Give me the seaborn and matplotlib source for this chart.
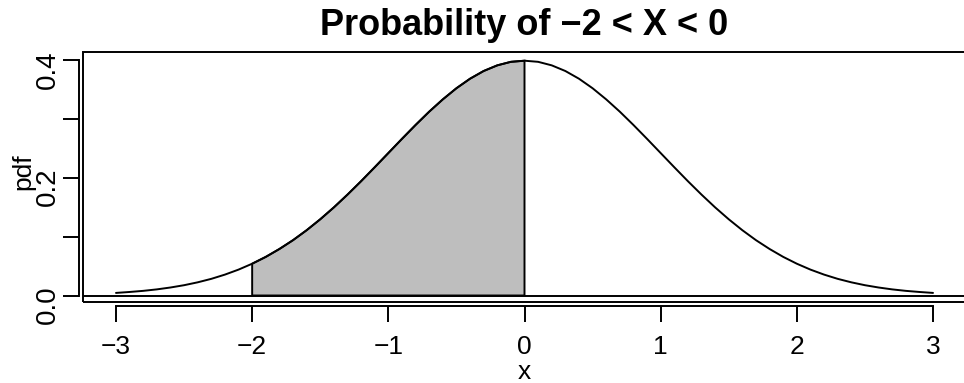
import numpy as np
import matplotlib
matplotlib.use("Agg")
import matplotlib.pyplot as plt
from matplotlib.patches import Rectangle
import seaborn as sns
import pandas as pd

# Standard normal density sampled on a 0.1 grid from -3 to 3
x_values = np.linspace(-3.0, 3.0, 61)
pdf_values = [
    0.0044, 0.0060, 0.0079, 0.0104, 0.0136, 0.0175, 0.0224, 0.0283, 0.0355, 0.0440,
    0.0540, 0.0656, 0.0790, 0.0940, 0.1109, 0.1295, 0.1497, 0.1714, 0.1942, 0.2179,
    0.2420, 0.2661, 0.2897, 0.3123, 0.3332, 0.3521, 0.3683, 0.3814, 0.3910, 0.3970,
    0.3989,
    0.3970, 0.3910, 0.3814, 0.3683, 0.3521, 0.3332, 0.3123, 0.2897, 0.2661, 0.2420,
    0.2179, 0.1942, 0.1714, 0.1497, 0.1295, 0.1109, 0.0940, 0.0790, 0.0656, 0.0540,
    0.0440, 0.0355, 0.0283, 0.0224, 0.0175, 0.0136, 0.0104, 0.0079, 0.0060, 0.0044,
]
shade_lower = -2.0
shade_upper = 0.0

x_ticks = [-3, -2, -1, 0, 1, 2, 3]
y_ticks = [0.0, 0.1, 0.2, 0.3, 0.4]
y_tick_labels = ["0.0", "", "0.2", "", "0.4"]

df = pd.DataFrame({"x": x_values, "pdf": pdf_values})

sns.set_theme(style="white")
plt.rcParams["font.family"] = ["Liberation Sans", "DejaVu Sans"]
plt.rcParams["text.color"] = "black"
plt.rcParams["xtick.color"] = "black"
plt.rcParams["ytick.color"] = "black"
plt.rcParams["axes.labelcolor"] = "black"

W, H = 964, 383
fig = plt.figure(figsize=(W / 100, H / 100), dpi=100)
ax_left, ax_right, ax_top, ax_bottom = 83, 966, 51.7, 302
ax = fig.add_axes([ax_left / W, (H - ax_bottom) / H,
                   (ax_right - ax_left) / W, (ax_bottom - ax_top) / H])

lw = 1.4

# shaded area between the two bounds, closed down to zero
sub = df[(df["x"] >= shade_lower - 1e-9) & (df["x"] <= shade_upper + 1e-9)]
poly_x = [shade_lower] + list(sub["x"]) + [shade_upper]
poly_y = [0.0] + list(sub["pdf"]) + [0.0]
ax.fill(poly_x, poly_y, facecolor="#BEBEBE", edgecolor="black", linewidth=lw, zorder=2)

sns.lineplot(data=df, x="x", y="pdf", color="black", linewidth=lw, ax=ax, zorder=3)
ax.axhline(0, color="black", linewidth=lw, zorder=1)

ax.set_xlim(-3.2423, 3.2423)
ax.set_ylim(-0.01104, 0.4142)

ax.set_xticks(x_ticks)
ax.set_yticks(y_ticks)
ax.set_yticklabels(y_tick_labels)
ax.tick_params(axis="both", direction="out", length=11.5, width=lw,
               colors="black", left=True, bottom=True)
ax.tick_params(axis="x", pad=9.0, labelsize=19)
ax.tick_params(axis="y", pad=1.5, labelsize=20, labelrotation=90)
for lab in ax.get_yticklabels():
    lab.set_va("center")

for side in ("top", "right"):
    ax.spines[side].set_visible(False)
ax.spines["left"].set_position(("outward", 2.9))
ax.spines["bottom"].set_position(("outward", 3.0))
ax.spines["left"].set_bounds(0.0, 0.4)
ax.spines["bottom"].set_bounds(-3, 3)
for side in ("left", "bottom"):
    ax.spines[side].set_linewidth(lw)
    ax.spines[side].set_color("black")

ax.add_patch(Rectangle((0, 0), 1, 1, transform=ax.transAxes, fill=False,
                       edgecolor="black", linewidth=lw, clip_on=False, zorder=4))

ax.set_xlabel("")
ax.set_ylabel("")
fig.text(524.5 / W, 1 - 35 / H, "Probability of \u22122 < X < 0", ha="center",
         va="baseline", fontsize=26, fontweight="bold")
fig.text(524.5 / W, 1 - 372 / H, "x", ha="center", va="center", fontsize=19)
fig.text(23 / W, 1 - 172 / H, "pdf", ha="center", va="center", rotation=90, fontsize=19)

fig.savefig("out.png", dpi=100)
